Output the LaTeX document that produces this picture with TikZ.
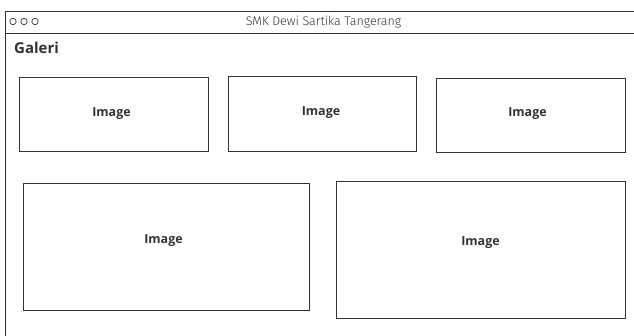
\documentclass[tikz,border=0pt]{standalone}
\usepackage{fontspec}
\setmainfont{Open Sans}
\newfontfamily\handfont{Fira Sans Light}
\usepackage{tikz}

\definecolor{inkgray}{HTML}{333333}

\begin{document}
\begin{tikzpicture}[x=1pt,y=-1pt,every node/.style={inkgray},
	imgbox/.style={draw=inkgray,line width=0.9pt,fill=white,inner sep=0pt},
	imgtext/.style={font=\fontsize{12.5}{14}\selectfont\bfseries,inner sep=0pt}]
	\useasboundingbox (0,0) rectangle (634,336);

	\draw[inkgray,line width=0.9pt] (5,336)--(5,11)--(634,11);
	\draw[inkgray,line width=0.9pt] (5,33)--(634,33);

	\draw[inkgray,line width=0.7pt] (13,21.5) circle(3.2);
	\draw[inkgray,line width=0.7pt] (24,21.5) circle(3.2);
	\draw[inkgray,line width=0.7pt] (35,21.5) circle(3.2);

	\node[font=\fontsize{12.5}{14}\handfont] (title) at (323.5,22) {SMK Dewi Sartika Tangerang};
	\node[anchor=west,font=\fontsize{15}{18}\selectfont\bfseries,inner sep=0pt] (galeri) at (14,48) {Galeri};

	\node[imgbox,minimum width=189pt,minimum height=74pt] (img1) at (113.5,114) {};
	\node[imgbox,minimum width=188pt,minimum height=75pt] (img2) at (322,113.5) {};
	\node[imgbox,minimum width=189pt,minimum height=74pt] (img3) at (530.5,115) {};
	\node[imgbox,minimum width=286pt,minimum height=127pt] (img4) at (166,246.5) {};
	\node[imgbox,minimum width=289pt,minimum height=137pt] (img5) at (480.5,249.5) {};

	\node[imgtext] (img1text) at ([xshift=-2pt]img1.center) {Image};
	\node[imgtext] (img2text) at ([xshift=-1pt,yshift=1pt]img2.center) {Image};
	\node[imgtext] (img3text) at ([xshift=-3pt,yshift=1pt]img3.center) {Image};
	\node[imgtext] (img4text) at ([xshift=-2.5pt,yshift=5.5pt]img4.center) {Image};
	\node[imgtext] (img5text) at ([yshift=6.5pt]img5.center) {Image};
\end{tikzpicture}
\end{document}
